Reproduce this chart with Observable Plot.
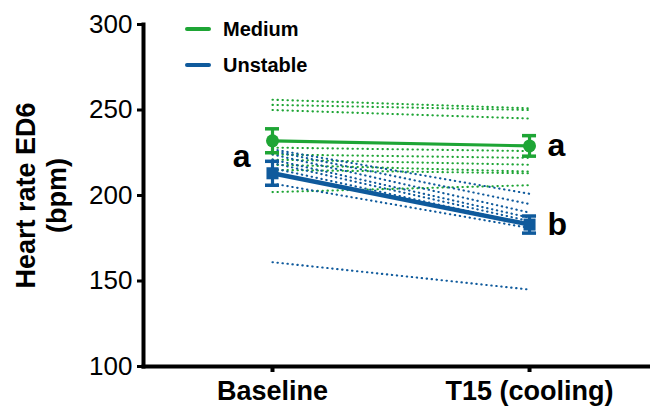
<!DOCTYPE html>
<html><head><meta charset="utf-8">
<script src="https://cdn.jsdelivr.net/npm/d3@7"></script>
<script src="https://cdn.jsdelivr.net/npm/@observablehq/plot@0.6"></script>
<style>
body{margin:0;background:#fff;font-family:Arial,"Liberation Sans",sans-serif}
#wrap{position:relative;width:650px;height:410px}
.leg{position:absolute;left:185px;display:flex;align-items:center;font-weight:bold;font-size:20px;color:#000;height:20px}
.leg .sw{display:inline-block;width:26px;height:4px;border-radius:2px;margin-right:12px}
svg g[aria-label="x-axis tick label"] text{font-weight:bold}
</style></head><body><div id="wrap"></div>
<script>
const timepoints = ["Baseline", "T15 (cooling)"];
const groups = ["Medium", "Unstable"];
const groupColors = ["#1ea535", "#0f5a9c"];
const yTicks = [100, 150, 200, 250, 300];

// individual animals (dotted lines)
const mediumBaseline = [256, 253, 250, 228, 224, 221, 218, 215, 202];
const mediumT15      = [251, 250, 245, 226, 222, 218, 214, 213, 206];
const unstableBaseline = [227, 226, 224, 221, 219, 216, 207, 161];
const unstableT15      = [201, 195, 190, 187, 185, 183, 181, 145];

// group means and SEM
const meanBaseline = [232, 213];
const meanT15      = [229, 183];
const semBaseline  = [7, 7];
const semT15       = [6, 5];

// significance letters
const lettersBaseline = ["a"];
const lettersT15 = ["a", "b"];

const indiv = [];
function addSubjects(group, base, t15) {
  base.forEach((b, i) => {
    indiv.push({group, id: group + i, time: timepoints[0], hr: b});
    indiv.push({group, id: group + i, time: timepoints[1], hr: t15[i]});
  });
}
addSubjects(groups[0], mediumBaseline, mediumT15);
addSubjects(groups[1], unstableBaseline, unstableT15);

const means = [];
groups.forEach((g, i) => {
  means.push({group: g, time: timepoints[0], mean: meanBaseline[i], sem: semBaseline[i]});
  means.push({group: g, time: timepoints[1], mean: meanT15[i], sem: semT15[i]});
});
const lo = d => d.mean - d.sem, hi = d => d.mean + d.sem;
const baseLetters = [{time: timepoints[0], y: d3.mean(meanBaseline), t: lettersBaseline[0]}];
const t15Letters = means.filter(d => d.time === timepoints[1]).map((d, i) => ({time: d.time, y: d.mean, t: lettersT15[i]}));

const colorScale = {domain: groups, range: groupColors};
const med = means.filter(d => d.group === groups[0]);
const uns = means.filter(d => d.group === groups[1]);

const chart = Plot.plot({
  width: 650, height: 410,
  marginLeft: 143, marginTop: 24, marginBottom: 44, marginRight: 0,
  style: {fontFamily: "Arial, 'Liberation Sans', sans-serif", color: "#000", background: "#fff"},
  x: {domain: timepoints, type: "band", paddingInner: 0.9455, paddingOuter: 0.459, align: 0.517, round: false, label: null},
  y: {domain: [100, 300], label: null},
  color: colorScale,
  marks: [
    Plot.line(indiv, {x: "time", y: "hr", z: "id", stroke: "group", strokeWidth: 2.1, strokeDasharray: "0.4 4.6", strokeLinecap: "round"}),
    Plot.line(med, {x: "time", y: "mean", stroke: "group", strokeWidth: 3.2}),
    Plot.line(uns, {x: "time", y: "mean", stroke: "group", strokeWidth: 4.5}),
    Plot.ruleX(means, {x: "time", y1: lo, y2: hi, stroke: "group", strokeWidth: 3.2}),
    Plot.tickY(means, {x: "time", y: lo, stroke: "group", strokeWidth: 3.5}),
    Plot.tickY(means, {x: "time", y: hi, stroke: "group", strokeWidth: 3.5}),
    Plot.dot(med, {x: "time", y: "mean", fill: "group", r: 6.5, symbol: "circle"}),
    Plot.dot(uns, {x: "time", y: "mean", fill: "group", r: 6.8, symbol: "square"}),
    Plot.text(baseLetters, {x: "time", y: "y", text: "t", textAnchor: "end", dx: -22, fontSize: 32, fontWeight: "bold"}),
    Plot.text(t15Letters, {x: "time", y: "y", text: "t", textAnchor: "start", dx: 18, fontSize: 32, fontWeight: "bold"}),
    Plot.frame({anchor: "left", strokeWidth: 4}),
    Plot.frame({anchor: "bottom", strokeWidth: 4}),
    Plot.axisY({ticks: yTicks, tickSize: 6, strokeWidth: 3, fontSize: 26, tickPadding: 5, label: null}),
    Plot.axisX({tickSize: 6, strokeWidth: 4, fontSize: 27, fontWeight: "bold", tickPadding: 8, label: null}),
    Plot.text(["Heart rate ED6\n(bpm)"], {frameAnchor: "left", rotate: -90, dx: -103, textAnchor: "middle", lineAnchor: "middle", fontSize: 27, fontWeight: "bold", lineHeight: 1.15})
  ]
});
const wrap = document.getElementById("wrap");
wrap.appendChild(chart);
const legTops = [19, 55];
groups.forEach((g, i) => {
  const d = document.createElement("div");
  d.className = "leg";
  d.style.top = legTops[i] + "px";
  d.innerHTML = `<span class="sw" style="background:${groupColors[i]}"></span>${g}`;
  wrap.appendChild(d);
});
</script>
</body></html>
